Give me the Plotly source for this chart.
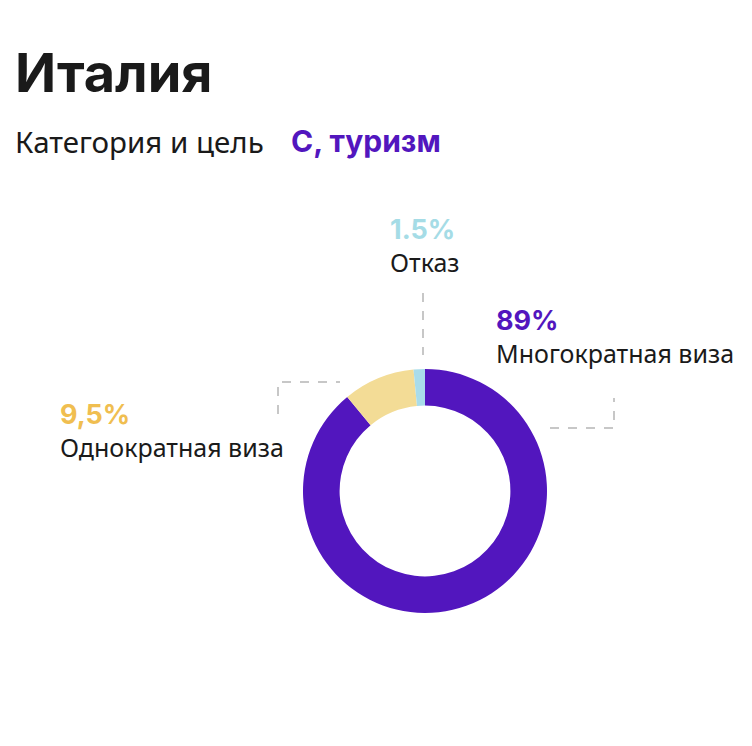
import plotly.graph_objects as go

# data
labels = ["Многократная виза", "Однократная виза", "Отказ"]
values = [89, 9.5, 1.5]
value_text = ["89%", "9,5%", "1.5%"]
slice_colors = ["#5216BE", "#F3DC96", "#A9DCEA"]
text_colors = ["#5216BE", "#F0BE50", "#A5DCE6"]

W, H = 752, 746
OFF = 8  # page body margin
cx, cy, r = 425, 491, 122

def px(x):
    return (x - OFF) / W

def py(y):
    return 1 - (y - OFF) / H

fig = go.Figure()
fig.add_pie(
    labels=labels, values=values,
    marker=dict(colors=slice_colors, line=dict(width=0)),
    hole=0.70, sort=False, direction="clockwise", rotation=0,
    textinfo="none", hoverinfo="label+percent", showlegend=False,
    domain=dict(x=[px(cx - r), px(cx + r)], y=[py(cy + r), py(cy - r)]),
)

# title / subtitle
ann = [
    dict(x=px(13), y=py(72), text="<b>Италия</b>", xanchor="left", yanchor="middle",
         font=dict(family="Inter, Noto Sans", size=54, color="#1a1a1a")),
    dict(x=px(13), y=py(141), text="Категория и цель", xanchor="left", yanchor="middle",
         font=dict(family="Noto Sans", size=29.5, color="#1a1a1a")),
    dict(x=px(289), y=py(141), text="<b>С, туризм</b>", xanchor="left", yanchor="middle",
         font=dict(family="Inter, Noto Sans", size=30, color=slice_colors[0])),
]

# slice labels: (left x, centre y of the two lines)
label_pos = [(494, 337), (58, 431), (388, 246)]
for i, (lx, ly) in enumerate(label_pos):
    txt = (f"<span style='font-family:Inter;font-size:27px;color:{text_colors[i]}'>"
           f"<b>{value_text[i]}</b></span><br>{labels[i]}")
    ann.append(dict(x=px(lx), y=py(ly), text=txt, align="left",
                    xanchor="left", yanchor="middle",
                    font=dict(family="Noto Sans", size=25, color="#1a1a1a")))

for a in ann:
    a.update(xref="paper", yref="paper", showarrow=False)

# dashed leader lines
dash = dict(color="#B5B5B5", width=1.5, dash="dash")
leaders = [
    [(423, 293), (423, 355)],
    [(550, 428), (614, 428), (614, 398)],
    [(278, 414), (278, 382), (340, 382)],
]
shapes = []
for pts in leaders:
    path = "M " + " L ".join(f"{px(x)} {py(y)}" for x, y in pts)
    shapes.append(dict(type="path", path=path, xref="paper", yref="paper", line=dash))

fig.update_layout(
    width=W, height=H, margin=dict(l=0, r=0, t=0, b=0),
    paper_bgcolor="white", plot_bgcolor="white",
    annotations=ann, shapes=shapes,
)
fig.write_html("out.html")
